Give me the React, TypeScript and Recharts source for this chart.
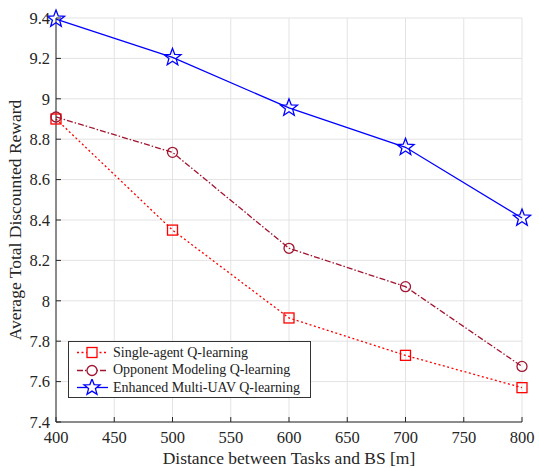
import React from 'react';
import { LineChart, Line, XAxis, YAxis, CartesianGrid } from 'recharts';

const distances = [400, 500, 600, 700, 800];
const singleAgent = [8.9, 8.35, 7.915, 7.73, 7.57];
const opponentModeling = [8.91, 8.735, 8.26, 8.07, 7.675];
const enhancedMultiUav = [9.395, 9.205, 8.955, 8.76, 8.41];
const xTicks = [400, 450, 500, 550, 600, 650, 700, 750, 800];
const yTicks = [7.4, 7.6, 7.8, 8, 8.2, 8.4, 8.6, 8.8, 9, 9.2, 9.4];

const data = distances.map((d, i) => ({
  d,
  single: singleAgent[i],
  opponent: opponentModeling[i],
  enhanced: enhancedMultiUav[i],
}));

const FONT = '"Liberation Serif", "Times New Roman", serif';
const RED = '#ff0000';
const DARKRED = '#a2142f';
const BLUE = '#0000ff';

const starPoints = (cx: number, cy: number, R: number, r: number) => {
  const pts: string[] = [];
  for (let i = 0; i < 10; i++) {
    const rad = i % 2 === 0 ? R : r;
    const a = -Math.PI / 2 + (i * Math.PI) / 5;
    pts.push(`${cx + rad * Math.cos(a)},${cy + rad * Math.sin(a)}`);
  }
  return pts.join(' ');
};

const SquareDot = (props: any) => {
  const { cx, cy } = props;
  return <rect key={`s${cx}`} x={cx - 5} y={cy - 5} width={10} height={10} fill="none" stroke={RED} strokeWidth={1.3} />;
};
const CircleDot = (props: any) => {
  const { cx, cy } = props;
  return <circle key={`c${cx}`} cx={cx} cy={cy} r={5} fill="none" stroke={DARKRED} strokeWidth={1.3} />;
};
const StarDot = (props: any) => {
  const { cx, cy } = props;
  return <polygon key={`p${cx}`} points={starPoints(cx, cy, 9, 3.8)} fill="none" stroke={BLUE} strokeWidth={1.3} />;
};

const legendItems = [
  { name: 'Single-agent Q-learning', color: RED, dash: '2 2.5', marker: 'square' },
  { name: 'Opponent Modeling Q-learning', color: DARKRED, dash: '6 2 1.5 2', marker: 'circle' },
  { name: 'Enhanced Multi-UAV Q-learning', color: BLUE, dash: undefined, marker: 'star' },
];

const LegendBox = () => (
  <div
    style={{
      position: 'absolute',
      left: 68,
      top: 341,
      width: 243,
      height: 57,
      border: '1px solid #333',
      background: '#fff',
      fontFamily: FONT,
      fontSize: 14,
      color: '#222',
      boxSizing: 'border-box',
      paddingTop: 2,
    }}
  >
    {legendItems.map((it) => (
      <div key={it.name} style={{ display: 'flex', alignItems: 'center', height: 17.5 }}>
        <svg width={36} height={17} style={{ marginLeft: 6 }}>
          <line x1={2} y1={8.5} x2={33} y2={8.5} stroke={it.color} strokeWidth={1.3} strokeDasharray={it.dash} />
          {it.marker === 'square' && <rect x={12} y={3.5} width={10} height={10} fill="#fff" stroke={it.color} strokeWidth={1.3} />}
          {it.marker === 'circle' && <circle cx={17} cy={8.5} r={5} fill="#fff" stroke={it.color} strokeWidth={1.3} />}
          {it.marker === 'star' && <polygon points={starPoints(17, 8.5, 8.5, 3.6)} fill="#fff" stroke={it.color} strokeWidth={1.3} />}
        </svg>
        <span style={{ marginLeft: 2 }}>{it.name}</span>
      </div>
    ))}
  </div>
);

const fmtY = (v: number) => (Number.isInteger(v) ? String(v) : v.toFixed(1));

export default function App() {
  return (
    <div style={{ position: 'absolute', left: 0, top: 0, width: 539, height: 468, background: '#fff' }}>
      <LineChart width={539} height={468} data={data} margin={{ top: 18, right: 17, bottom: 0, left: 0 }}>
        <CartesianGrid stroke="#e3e3e3" strokeWidth={1} />
        <XAxis
          dataKey="d"
          type="number"
          domain={[400, 800]}
          ticks={xTicks}
          height={46}
          stroke="#262626"
          tickSize={-5}
          tickMargin={14}
          tick={{ fill: '#262626', fontSize: 16.5, fontFamily: FONT }}
          label={{ value: 'Distance between Tasks and BS [m]', position: 'insideBottom', offset: 4, fill: '#262626', fontSize: 17.5, fontFamily: FONT }}
        />
        <XAxis xAxisId="top" orientation="top" dataKey="d" type="number" domain={[400, 800]} ticks={xTicks} height={0} stroke="#262626" tick={false} tickSize={-5} />
        <YAxis
          type="number"
          domain={[7.4, 9.4]}
          ticks={yTicks}
          width={56}
          stroke="#262626"
          tickSize={-5}
          tickMargin={11}
          tickFormatter={fmtY}
          tick={{ fill: '#262626', fontSize: 16.5, fontFamily: FONT }}
          label={{ value: 'Average Total Discounted Reward', angle: -90, position: 'insideLeft', offset: 15, style: { textAnchor: 'middle' }, fill: '#262626', fontSize: 17.5, fontFamily: FONT }}
        />
        <YAxis yAxisId="right" orientation="right" type="number" domain={[7.4, 9.4]} ticks={yTicks} width={0} stroke="#262626" tick={false} tickSize={-5} />
        <Line dataKey="single" stroke={RED} strokeWidth={1.3} strokeDasharray="2 2.5" dot={<SquareDot />} isAnimationActive={false} />
        <Line dataKey="opponent" stroke={DARKRED} strokeWidth={1.3} strokeDasharray="6 2 1.5 2" dot={<CircleDot />} isAnimationActive={false} />
        <Line dataKey="enhanced" stroke={BLUE} strokeWidth={1.3} dot={<StarDot />} isAnimationActive={false} />
      </LineChart>
      <LegendBox />
    </div>
  );
}
